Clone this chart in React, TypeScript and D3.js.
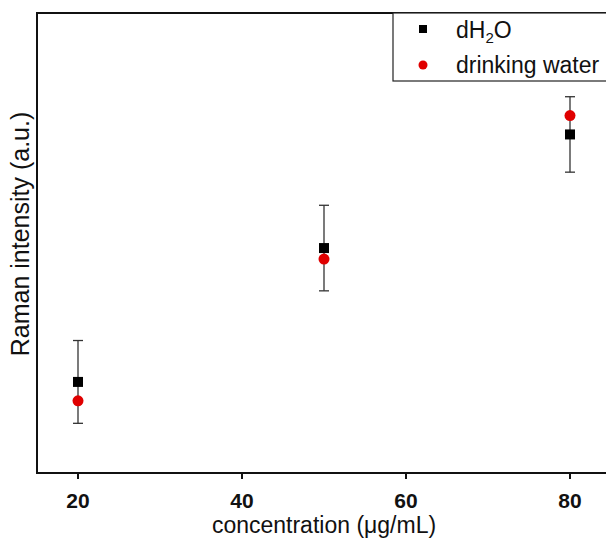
import React from 'react'
import * as d3 from 'd3'

const concentrations = [20, 50, 80]
const dh2oValues = [19.8, 48.9, 73.6]
const dh2oErrors = [9.0, 9.3, 8.2]
const drinkingValues = [15.7, 46.5, 77.7]
const xTicks = [20, 40, 60, 80]

const W = 606
const H = 539
const left = 37
const top = 13
const bottom = 473
const FONT = '"Liberation Sans", Arial, sans-serif'

export default function App() {
  const x = d3.scaleLinear().domain([15, 85]).range([left, left + 70 * 8.2])
  const y = d3.scaleLinear().domain([0, 100]).range([bottom, top])
  const right = x(85)

  return (
    <svg width={W} height={H} style={{ position: 'absolute', left: 0, top: 0, background: '#fff' }}>
      {/* frame */}
      <rect x={left} y={top} width={right - left} height={bottom - top} fill="none" stroke="#111" strokeWidth={2} />

      {/* x ticks */}
      {xTicks.map(t => (
        <g key={t}>
          <line x1={x(t)} x2={x(t)} y1={bottom} y2={bottom + 6} stroke="#111" strokeWidth={2} />
          <text x={x(t)} y={508} textAnchor="middle" fontFamily={FONT} fontWeight="bold" fontSize={21} fill="#111">{t}</text>
        </g>
      ))}
      <text x={324} y={533} textAnchor="middle" fontFamily={FONT} fontSize={23} fill="#111">concentration (μg/mL)</text>
      <text transform={`translate(29, 234) rotate(-90)`} textAnchor="middle" fontFamily={FONT} fontSize={25} fill="#111">Raman intensity (a.u.)</text>

      {/* error bars */}
      {concentrations.map((c, i) => {
        const cx = x(c)
        const y1 = y(dh2oValues[i] + dh2oErrors[i])
        const y2 = y(dh2oValues[i] - dh2oErrors[i])
        return (
          <g key={c} stroke="#333" strokeWidth={1.3}>
            <line x1={cx} x2={cx} y1={y1} y2={y2} />
            <line x1={cx - 5} x2={cx + 5} y1={y1} y2={y1} />
            <line x1={cx - 5} x2={cx + 5} y1={y2} y2={y2} />
          </g>
        )
      })}

      {concentrations.map((c, i) => (
        <rect key={'s' + c} x={x(c) - 5} y={y(dh2oValues[i]) - 5} width={10} height={10} fill="#000" />
      ))}
      {concentrations.map((c, i) => (
        <circle key={'c' + c} cx={x(c)} cy={y(drinkingValues[i])} r={5.5} fill="#e00000" />
      ))}

      {/* legend */}
      <rect x={393} y={top} width={W} height={68} fill="#fff" stroke="#222" strokeWidth={1.2} />
      <rect x={419} y={25} width={8} height={8} fill="#000" />
      <text x={456} y={38} fontFamily={FONT} fontSize={23} fill="#111">
        dH<tspan fontSize={15} dy={5}>2</tspan><tspan dy={-5}>O</tspan>
      </text>
      <circle cx={423} cy={65} r={4.5} fill="#e00000" />
      <text x={456} y={73} fontFamily={FONT} fontSize={23} fill="#111">drinking water</text>
    </svg>
  )
}
